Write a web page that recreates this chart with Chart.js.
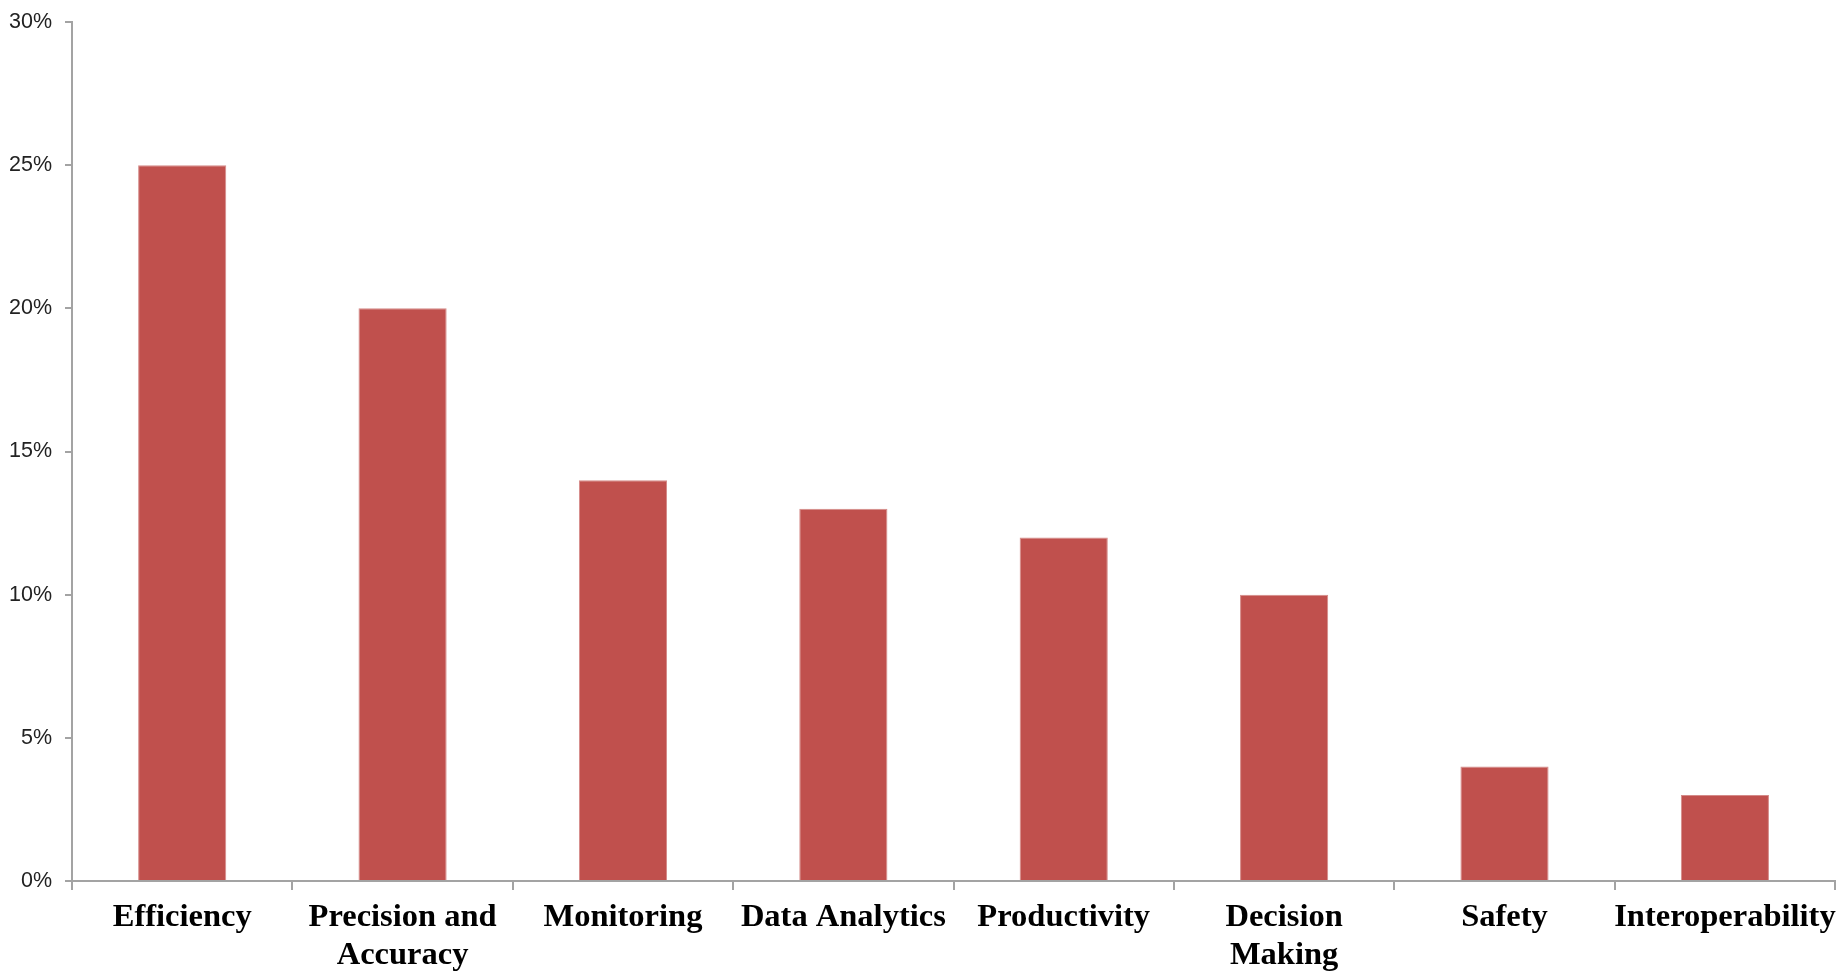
<!DOCTYPE html>
<html>
<head>
<meta charset="utf-8">
<script src="https://cdn.jsdelivr.net/npm/chart.js@4"></script>
<style>
    html, body { margin: 0; padding: 0; background: #fff; }
    #wrap { width: 1845px; height: 973px; position: relative; }
</style>
</head>
<body>
<div id="wrap"><canvas id="benefitChart"></canvas></div>
<script>
    const categories = [
        'Efficiency',
        ['Precision and', 'Accuracy'],
        'Monitoring',
        'Data Analytics',
        'Productivity',
        ['Decision', 'Making'],
        'Safety',
        'Interoperability'
    ];
    const shares = [25, 20, 14, 13, 12, 10, 4, 3];
    const yTicks = [0, 5, 10, 15, 20, 25, 30];

    const axisGrey = '#a3a3a3';

    new Chart(document.getElementById('benefitChart'), {
        type: 'bar',
        data: {
            labels: categories,
            datasets: [{
                data: shares,
                backgroundColor: '#c0504d',
                borderColor: '#d48a88',
                borderWidth: 1,
                barPercentage: 0.4,
                categoryPercentage: 1
            }]
        },
        options: {
            responsive: true,
            maintainAspectRatio: false,
            animation: false,
            layout: { padding: { top: 22, right: 6, left: 0, bottom: 0 } },
            plugins: { legend: { display: false }, tooltip: { enabled: false } },
            scales: {
                x: {
                    grid: { drawOnChartArea: false, color: axisGrey, lineWidth: 2, tickLength: 9, offset: true },
                    border: { color: axisGrey, width: 2 },
                    ticks: {
                        color: '#000',
                        font: { family: '"Liberation Serif"', size: 32.5, weight: 'bold', lineHeight: 1.17 },
                        padding: 9,
                        maxRotation: 0,
                        autoSkip: false
                    },
                    afterFit: scale => { scale.height = 92; }
                },
                y: {
                    min: yTicks[0],
                    max: yTicks[yTicks.length - 1],
                    afterBuildTicks: scale => { scale.ticks = yTicks.map(v => ({ value: v })); },
                    grid: { drawOnChartArea: false, color: axisGrey, lineWidth: 2, tickLength: 7 },
                    border: { color: axisGrey, width: 2 },
                    ticks: {
                        color: '#222',
                        font: { family: '"Liberation Sans"', size: 21.5 },
                        padding: 13,
                        callback: v => v + '%'
                    },
                    afterFit: scale => {
                        scale.width = 72;
                        scale.paddingTop = 0;
                        scale.paddingBottom = 0;
                    }
                }
            }
        }
    });
</script>
</body>
</html>
